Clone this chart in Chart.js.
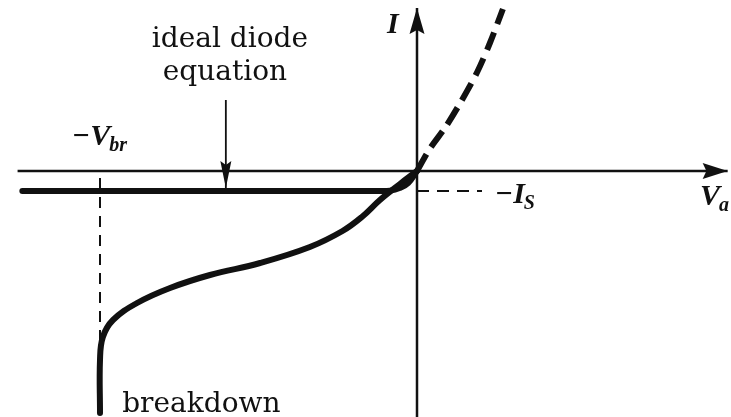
<!DOCTYPE html>
<html>
<head>
<meta charset="utf-8">
<title>Diode I-V characteristic</title>
<script src="https://cdn.jsdelivr.net/npm/chart.js@4.4.1/dist/chart.umd.min.js"></script>
<style>
  html, body { margin: 0; padding: 0; background: #fff; }
  #wrap { width: 731px; height: 417px; position: relative; }
</style>
</head>
<body>
<div id="wrap"><canvas id="ivChart"></canvas></div>
<script>
// Voltage in units of V_br / 10, current in units of I_S
const V_BR = 10;
const I_S = 1;

// ideal diode equation (reverse branch, saturates at -I_S)
const idealV = [-12.45, -3.7, -1.2, -0.85, -0.55, -0.28, 0];
const idealI = [-1, -1, -1, -0.98, -0.85, -0.6, 0];

// forward exponential branch (dashed)
const forwardV = [0, 0.4, 0.9, 1.4, 1.9, 2.3, 2.71];
const forwardI = [0, 1.1, 2.2, 3.5, 4.95, 6.4, 8.1];

// measured reverse branch running into breakdown
const breakdownV = [0, -0.54, -1.17, -1.74, -2.35, -3.38, -4.95, -6.53, -7.79, -8.83, -9.59, -9.91, -10, -10];
const breakdownI = [0, -0.65, -1.45, -2.3, -3.0, -3.8, -4.6, -5.2, -5.85, -6.6, -7.45, -8.3, -9.45, -12.1];

// axes extents and the pointer to the ideal curve
const axisV = [-12.6, 9.8];
const axisI = [-12.3, 8.15];
const pointerV = -6.03;
const pointerI = [3.55, -0.85];
const isGuideEnd = 2.05;
const brGuideI = [-0.35, -8.7];

const ink = '#111';

const pts = (xs, ys) => xs.map((v, i) => ({ x: v, y: ys[i] }));

function line(data, width, extra) {
  return Object.assign({
    data,
    showLine: true,
    borderColor: ink,
    backgroundColor: ink,
    borderWidth: width,
    pointRadius: 0,
    tension: 0,
    fill: false
  }, extra || {});
}

function arrowHead(ctx, tx, ty, dir, len, half) {
  const d = { right: [1, 0], up: [0, -1], down: [0, 1] }[dir];
  const bx = tx - d[0] * len, by = ty - d[1] * len;
  const nx = -d[1], ny = d[0];
  ctx.beginPath();
  ctx.moveTo(tx, ty);
  ctx.lineTo(bx + nx * half, by + ny * half);
  ctx.lineTo(bx + d[0] * len * 0.15, by + d[1] * len * 0.15);
  ctx.lineTo(bx - nx * half, by - ny * half);
  ctx.closePath();
  ctx.fill();
}

function symbol(ctx, x0, y0, main, sub, size) {
  ctx.textAlign = 'left';
  ctx.font = `italic bold ${size}px "Liberation Serif"`;
  ctx.fillText(main, x0, y0);
  if (!sub) return;
  const w = ctx.measureText(main).width;
  ctx.font = `italic bold ${Math.round(size * 0.68)}px "Liberation Serif"`;
  ctx.fillText(sub, x0 + w - 1, y0 + 6);
}

const annotate = {
  id: 'annotate',
  afterDatasetsDraw(chart) {
    const { ctx, scales: { x, y } } = chart;
    const px = v => x.getPixelForValue(v);
    const py = v => y.getPixelForValue(v);
    ctx.save();
    ctx.fillStyle = ink;

    arrowHead(ctx, px(axisV[1]), py(0), 'right', 25, 8);
    arrowHead(ctx, px(0), py(axisI[1]), 'up', 26, 7.5);
    arrowHead(ctx, px(pointerV), py(pointerI[1]), 'down', 27, 5.5);

    ctx.textBaseline = 'alphabetic';
    symbol(ctx, px(-0.95), py(6.9), 'I', '', 30);
    symbol(ctx, px(-10.88), py(1.3), '\u2212V', 'br', 30);
    symbol(ctx, px(2.46), py(-1.6), '\u2212I', 'S', 30);
    symbol(ctx, px(8.93), py(-1.7), 'V', 'a', 30);

    ctx.font = '28px "DejaVu Serif"';
    ctx.textAlign = 'center';
    ctx.fillText('ideal diode', px(-5.9), py(6.2));
    ctx.fillText('equation', px(-6.06), py(4.55));
    ctx.textAlign = 'left';
    ctx.fillText('breakdown', px(-9.3), py(-12.05));
    ctx.restore();
  }
};

new Chart(document.getElementById('ivChart'), {
  type: 'scatter',
  data: {
    datasets: [
      // axes
      line(pts(axisV, [0, 0]), 2.5),
      line(pts([0, 0], axisI), 2.5),
      // pointer shaft
      line(pts([pointerV, pointerV], pointerI), 1.8),
      // guides at -V_br and -I_S
      line(pts([-V_BR, -V_BR], brGuideI), 2, { borderDash: [11, 8] }),
      line(pts([0, isGuideEnd], [-I_S, -I_S]), 2, { borderDash: [12, 8] }),
      // curves
      line(pts(idealV, idealI), 6, { tension: 0.4, borderCapStyle: 'round' }),
      line(pts(forwardV, forwardI), 6, { tension: 0.3, borderDash: [19, 9] }),
      line(pts(breakdownV, breakdownI), 6, { tension: 0.4, borderCapStyle: 'round', borderJoinStyle: 'round' })
    ]
  },
  options: {
    responsive: true,
    maintainAspectRatio: false,
    animation: false,
    layout: { padding: 0 },
    plugins: { legend: { display: false }, tooltip: { enabled: false } },
    scales: {
      x: { type: 'linear', display: false, min: -417 / 31.7, max: 314 / 31.7 },
      y: { type: 'linear', display: false, min: -12.3, max: 8.55 }
    }
  },
  plugins: [annotate]
});
</script>
</body>
</html>
